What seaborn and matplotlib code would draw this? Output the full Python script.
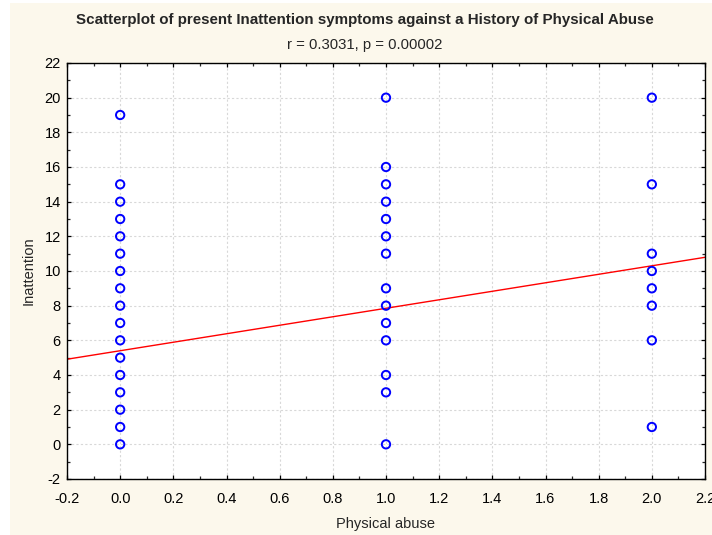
import numpy as np
import pandas as pd
import seaborn as sns
import matplotlib
matplotlib.use("Agg")
import matplotlib.pyplot as plt
from matplotlib.ticker import MultipleLocator
from matplotlib.patches import Rectangle

# Data
abuse_0 = [19, 15, 14, 13, 12, 11, 10, 9, 8, 7, 6, 5, 4, 3, 2, 1, 0]
abuse_1 = [20, 16, 15, 14, 13, 12, 11, 9, 8, 7, 6, 4, 3, 0]
abuse_2 = [20, 15, 11, 10, 9, 8, 6, 1]
abuse_levels = [0.0, 1.0, 2.0]
fit_intercept = 5.40
fit_slope = 2.45

x_vals = [0.0] * len(abuse_0) + [1.0] * len(abuse_1) + [2.0] * len(abuse_2)
y_vals = abuse_0 + abuse_1 + abuse_2
df = pd.DataFrame({"Physical abuse": x_vals, "Inattention": y_vals})

sns.set_theme(style="white")
plt.rcParams["font.family"] = ["Liberation Sans", "DejaVu Sans"]
plt.rcParams["axes.unicode_minus"] = False

fig = plt.figure(figsize=(7.12, 5.35), dpi=100)
fig.patch.set_facecolor("white")
fig.patches.append(Rectangle((10 / 712, 0), 702 / 712, 532 / 535,
                             transform=fig.transFigure, facecolor="#FCF8EC",
                             edgecolor="none", zorder=-10))

ax = fig.add_axes([67 / 712, (535 - 479) / 535, (705 - 67) / 712, (479 - 63) / 535])
ax.set_facecolor("white")

ax.grid(True, which="major", color="#d8d8d8", linestyle=(0, (2, 2)), linewidth=0.8)
ax.set_axisbelow(True)

xs = np.array([-0.2, 2.2])
sns.lineplot(x=xs, y=fit_intercept + fit_slope * xs, color="red", linewidth=1.0, ax=ax, zorder=2)

sns.scatterplot(data=df, x="Physical abuse", y="Inattention", ax=ax, s=36,
                facecolors="none", edgecolor="blue", linewidth=1.4, marker="o", zorder=3)

ax.xaxis.set_major_locator(MultipleLocator(0.2))
ax.xaxis.set_minor_locator(MultipleLocator(0.1))
ax.yaxis.set_major_locator(MultipleLocator(2))
ax.yaxis.set_minor_locator(MultipleLocator(1))
ax.set_xlim(-0.2, 2.2)
ax.set_ylim(-2, 22)
ax.xaxis.set_major_formatter(matplotlib.ticker.FormatStrFormatter("%.1f"))
ax.tick_params(axis="both", which="major", direction="in", length=3, width=0.9,
               labelsize=10.5, colors="black", bottom=True, left=True, top=True, right=True)
ax.tick_params(axis="both", which="minor", direction="in", length=2, width=0.9,
               bottom=True, left=True, top=True, right=True)
ax.tick_params(axis="x", which="major", pad=9.5)
ax.tick_params(axis="y", which="major", pad=4.5)
for s in ax.spines.values():
    s.set_color("black")
    s.set_linewidth(1.0)

ax.set_xlabel("Physical abuse", fontsize=10.5, labelpad=8)
ax.set_ylabel("Inattention", fontsize=10.5, labelpad=6)

fig.text(365 / 712, 1 - 20 / 535, "Scatterplot of present Inattention symptoms against a History of Physical Abuse",
         ha="center", va="center", fontsize=10.9, fontweight="bold")
fig.text(365 / 712, 1 - 45 / 535, "r = 0.3031, p = 0.00002", ha="center", va="center", fontsize=10.7)

fig.savefig("out.png", dpi=100, facecolor=fig.get_facecolor())
